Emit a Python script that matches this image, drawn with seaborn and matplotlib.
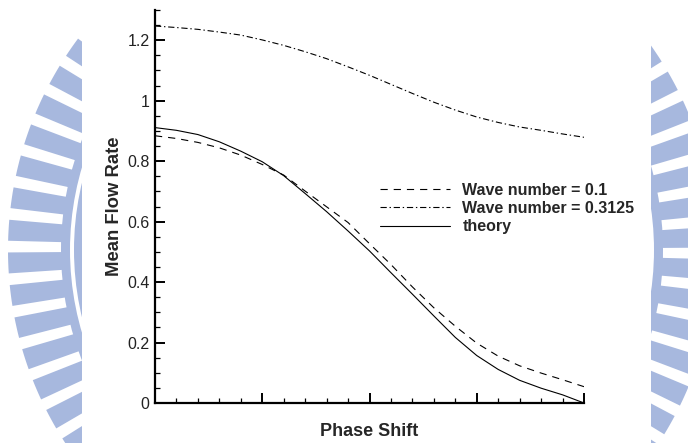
import numpy as np
import pandas as pd
import matplotlib
matplotlib.use("Agg")
import matplotlib.pyplot as plt
import seaborn as sns
from matplotlib.patches import Wedge, Circle, Rectangle
from matplotlib.ticker import MultipleLocator, FormatStrFormatter, NullFormatter

# ---- data ----
phase_shift = [0.0, 0.05, 0.1, 0.15, 0.2, 0.25, 0.3, 0.35, 0.4, 0.45, 0.5,
               0.55, 0.6, 0.65, 0.7, 0.75, 0.8, 0.85, 0.9, 0.95, 1.0]
wave_01 = [0.884, 0.875, 0.862, 0.844, 0.820, 0.789, 0.754, 0.701, 0.649,
           0.597, 0.527, 0.458, 0.384, 0.315, 0.254, 0.198, 0.155, 0.123,
           0.099, 0.077, 0.054]
wave_03125 = [1.247, 1.242, 1.236, 1.227, 1.217, 1.201, 1.183, 1.162, 1.139,
              1.112, 1.084, 1.054, 1.024, 0.995, 0.969, 0.946, 0.928, 0.913,
              0.902, 0.890, 0.879]
theory = [0.911, 0.902, 0.888, 0.864, 0.833, 0.798, 0.752, 0.693, 0.633,
          0.569, 0.503, 0.431, 0.360, 0.288, 0.217, 0.157, 0.111, 0.075,
          0.049, 0.027, 0.0]
series_labels = ["Wave number = 0.1", "Wave number = 0.3125", "theory"]
y_ticks = [0, 0.2, 0.4, 0.6, 0.8, 1.0, 1.2]

n = len(phase_shift)
df = pd.DataFrame({
    "Phase Shift": phase_shift * 3,
    "Mean Flow Rate": wave_01 + wave_03125 + theory,
    "series": [series_labels[0]] * n + [series_labels[1]] * n
              + [series_labels[2]] * n,
})

sns.set_theme(style="white")
plt.rcParams["font.family"] = ["Liberation Sans", "DejaVu Sans"]
plt.rcParams["lines.scale_dashes"] = False

W, H = 688, 443
fig = plt.figure(figsize=(W / 100, H / 100), dpi=100)
fig.patch.set_facecolor("white")

# ---- watermark background ----
bg = fig.add_axes([0, 0, 1, 1], zorder=-5)
bg.set_xlim(0, W)
bg.set_ylim(H, 0)
bg.axis("off")
wm = "#a7b8de"
cx, cy = 362, 250
bg.add_patch(Circle((cx, cy), 288, color=wm, lw=0))
bg.add_patch(Wedge((cx, cy), 301, 0, 360, width=9, color=wm, lw=0))
period = 360 / 68
for k in range(68):
    t1 = 1.5 + k * period
    bg.add_patch(Wedge((cx, cy), 354, t1, t1 + 3.4, width=55, color=wm, lw=0))
bg.add_patch(Rectangle((82, -5), 651 - 82, H + 10, color="white", lw=0))

# ---- main axes ----
ax = fig.add_axes([155 / W, 1 - 403 / H, 429 / W, 393 / H], zorder=2)
ax.patch.set_alpha(0)

dashes = {
    series_labels[0]: (5.2, 4.3),
    series_labels[1]: (4.5, 2.0, 1.0, 2.0),
    series_labels[2]: "",
}
sns.lineplot(data=df, x="Phase Shift", y="Mean Flow Rate", style="series",
             dashes=dashes, color="black", linewidth=0.8, ax=ax, legend=False)

ax.set_xlim(0, 1)
ax.set_ylim(0, 1.3)
ax.set_yticks(y_ticks)
ax.yaxis.set_major_formatter(FormatStrFormatter("%g"))
ax.yaxis.set_minor_locator(MultipleLocator(0.05))
ax.xaxis.set_major_locator(MultipleLocator(0.25))
ax.xaxis.set_minor_locator(MultipleLocator(0.05))
ax.xaxis.set_major_formatter(NullFormatter())

for s in ["top", "right"]:
    ax.spines[s].set_visible(False)
for s in ["left", "bottom"]:
    ax.spines[s].set_linewidth(1.6)
    ax.spines[s].set_color("black")

ax.tick_params(which="major", direction="in", length=7, width=1.4,
               color="black", labelsize=11.5, pad=4, labelcolor="#222222")
ax.tick_params(which="minor", direction="in", length=3.5, width=0.9,
               color="black")
ax.tick_params(axis="x", which="both", bottom=True)
ax.tick_params(axis="y", which="both", left=True)

ax.set_xlabel("Phase Shift", fontsize=13, fontweight="bold", labelpad=10.5)
ax.set_ylabel("Mean Flow Rate", fontsize=13.3, fontweight="bold", labelpad=3)

handles = ax.get_lines()[:3]
ax.legend(handles, series_labels, loc="upper left",
          bbox_to_anchor=(0.491, 0.597), frameon=False,
          prop={"weight": "bold", "size": 11.5}, handlelength=4.4,
          handletextpad=0.75, labelspacing=0.2)

fig.savefig("out.png", dpi=100, facecolor="white")
